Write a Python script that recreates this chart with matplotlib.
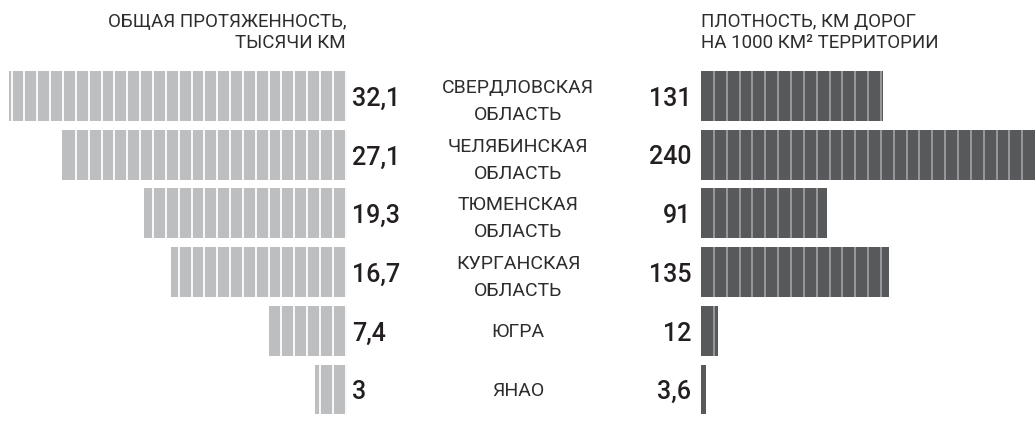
import numpy as np
import matplotlib.pyplot as plt
import matplotlib.transforms as mtransforms

# data
regions = [["СВЕРДЛОВСКАЯ", "ОБЛАСТЬ"], ["ЧЕЛЯБИНСКАЯ", "ОБЛАСТЬ"], ["ТЮМЕНСКАЯ", "ОБЛАСТЬ"],
           ["КУРГАНСКАЯ", "ОБЛАСТЬ"], ["ЮГРА"], ["ЯНАО"]]
length_k = [32.1, 27.1, 19.3, 16.7, 7.4, 3]          # тысячи км
density = [131, 240, 91, 135, 12, 3.6]               # км на 1000 км2
length_lbl = ["32,1", "27,1", "19,3", "16,7", "7,4", "3"]
density_lbl = ["131", "240", "91", "135", "12", "3,6"]

W, H = 1035, 424
fig = plt.figure(figsize=(W / 100, H / 100), dpi=100)

# rows: centre of first row at 96 px, pitch 58.7 px
top_px, bot_px = 96 - 29.35, 96 + 5.5 * 58.7
ax_b = (H - bot_px) / H
ax_h = (bot_px - top_px) / H
ax_l = fig.add_axes([0, ax_b, 347 / W, ax_h])
ax_r = fig.add_axes([701 / W, ax_b, 334 / W, ax_h])

ax_l.set_xlim(347 / 10.52, 0)
ax_r.set_xlim(0, 334 / 1.39)
for ax in (ax_l, ax_r):
    ax.set_ylim(5.5, -0.5)
    ax.axis("off")

rows = np.arange(len(regions))
bh = 0.85
seg_px = 12.85

ax_l.barh(rows, length_k, height=bh, color="#bcbec0", linewidth=0)
ax_r.barh(rows, density, height=bh, color="#58595b", linewidth=0)

# stripes
step_l = seg_px / 10.52
step_r = seg_px / 1.39
for r, v in zip(rows, length_k):
    xs = np.arange(0.12, v - 0.2, step_l)
    ax_l.vlines(xs, r - bh / 2, r + bh / 2, color="white", lw=1.3)
for r, v in zip(rows, density):
    xs = np.arange(step_r, v, step_r)
    ax_r.vlines(xs, r - bh / 2, r + bh / 2, color="#a9abae", lw=1.1)

num_font = ["Roboto", "DejaVu Sans"]
lab_font = ["Roboto", "DejaVu Sans"]
dark = "#231f20"
grey = "#2e2c2d"

for r in rows:
    ax_l.annotate(length_lbl[r], (0, r), xytext=(3.6, -2), textcoords="offset points",
                  ha="left", va="center", fontsize=18, family=num_font, fontweight="medium", color=dark)
    ax_r.annotate(density_lbl[r], (0, r), xytext=(-7, -2), textcoords="offset points",
                  ha="right", va="center", fontsize=18, family=num_font, fontweight="medium", color=dark)

# region names in the middle
tr = mtransforms.blended_transform_factory(fig.transFigure, ax_l.transData)
lab = dict(ha="center", fontsize=14, family=lab_font, fontweight="normal", color=grey)
for r, name in zip(rows, regions):
    if len(name) == 2:
        fig.text(518 / W, r, name[0], va="baseline",
                 transform=tr + mtransforms.ScaledTranslation(0, 0.03, fig.dpi_scale_trans), **lab)
        fig.text(518 / W, r, name[1], va="baseline",
                 transform=tr + mtransforms.ScaledTranslation(0, -0.24, fig.dpi_scale_trans), **lab)
    else:
        fig.text(518 / W, r, name[0], va="center",
                 transform=tr + mtransforms.ScaledTranslation(0, -0.01, fig.dpi_scale_trans), **lab)

# headers
hdr = dict(fontsize=13.5, family=lab_font, fontweight="normal", color=grey, va="baseline")
fig.text(346 / W, 1 - 27 / H, "ОБЩАЯ ПРОТЯЖЕННОСТЬ,", ha="right", **hdr)
fig.text(346 / W, 1 - 48 / H, "ТЫСЯЧИ КМ", ha="right", **hdr)
fig.text(701 / W, 1 - 27 / H, "ПЛОТНОСТЬ, КМ ДОРОГ", ha="left", **hdr)
fig.text(701 / W, 1 - 48 / H, "НА 1000 КМ² ТЕРРИТОРИИ", ha="left", **hdr)

fig.savefig("out.png", dpi=100)
